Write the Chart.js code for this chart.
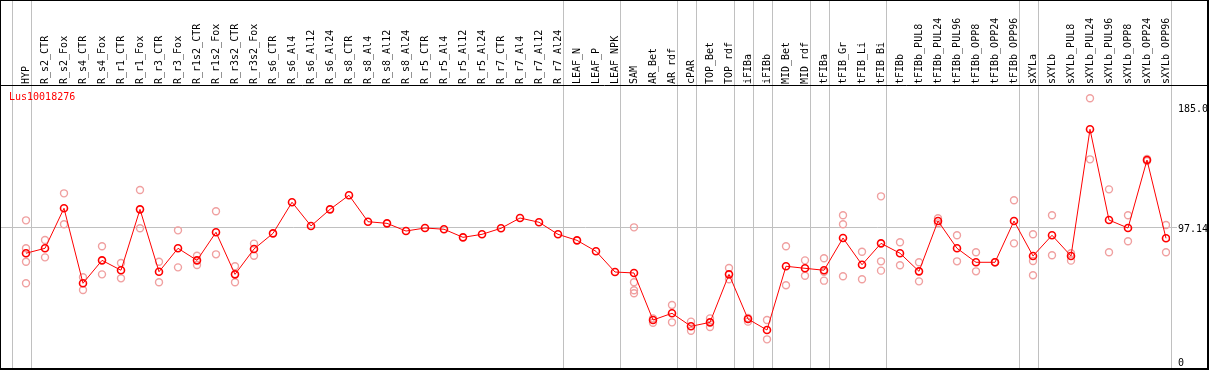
<!DOCTYPE html>
<html>
<head>
<meta charset="utf-8">
<script src="https://cdn.jsdelivr.net/npm/chart.js@4.4.0/dist/chart.umd.min.js"></script>
<style>
  html, body { margin: 0; padding: 0; background: #fff; }
  #wrap { width: 1209px; height: 370px; }
</style>
</head>
<body>
<div id="wrap"><canvas id="chart"></canvas></div>
<script>
const geneName = 'Lus10018276';

const categories = [
    'HYP', 'R_s2_CTR', 'R_s2_Fox', 'R_s4_CTR', 'R_s4_Fox', 'R_r1_CTR', 'R_r1_Fox',
    'R_r3_CTR', 'R_r3_Fox', 'R_r1s2_CTR', 'R_r1s2_Fox', 'R_r3s2_CTR', 'R_r3s2_Fox',
    'R_s6_CTR', 'R_s6_Al4', 'R_s6_Al12', 'R_s6_Al24', 'R_s8_CTR', 'R_s8_Al4',
    'R_s8_Al12', 'R_s8_Al24', 'R_r5_CTR', 'R_r5_Al4', 'R_r5_Al12', 'R_r5_Al24',
    'R_r7_CTR', 'R_r7_Al4', 'R_r7_Al12', 'R_r7_Al24', 'LEAF_N', 'LEAF_P', 'LEAF_NPK',
    'SAM', 'AR_Bet', 'AR_rdf', 'cPAR', 'TOP_Bet', 'TOP_rdf', 'iFIBa', 'iFIBb',
    'MID_Bet', 'MID_rdf', 'tFIBa', 'tFIB_Gr', 'tFIB_Li', 'tFIB_Bi', 'tFIBb',
    'tFIBb_PUL8', 'tFIBb_PUL24', 'tFIBb_PUL96', 'tFIBb_OPP8', 'tFIBb_OPP24', 'tFIBb_OPP96',
    'sXYLa', 'sXYLb', 'sXYLb_PUL8', 'sXYLb_PUL24', 'sXYLb_PUL96', 'sXYLb_OPP8',
    'sXYLb_OPP24', 'sXYLb_OPP96'
];

// mean expression per sample
const meanValues = [
    78.6, 82.2, 111.4, 56.7, 73.4, 66.2, 110.6, 65.1, 82.2, 73.4, 93.9, 63.2, 81.7,
    93.1, 115.8, 98.5, 110.6, 120.9, 101.6, 100.4, 94.8, 97.0, 96.1, 90.2, 92.4,
    96.8, 104.3, 101.2, 92.4, 88.0, 80.0, 64.9,
    64.2, 29.9, 34.8, 25.3, 28.2, 63.2, 30.6, 22.6, 69.1, 67.6, 66.2, 89.7, 70.2, 85.8,
    78.6, 65.4, 102.1, 82.2, 72.0, 72.0, 102.1,
    76.6, 91.7, 76.6, 169.0, 102.8, 97.0, 146.6, 89.5
];

// individual replicates (empty where only one sample)
const replicateValues = [
    [102.6, 82.2, 72.4, 56.7], [88.3, 75.6], [122.3, 99.7], [61.1, 51.8], [83.7, 63.2],
    [71.5, 60.3], [124.7, 96.8], [72.4, 57.4], [95.3, 68.3], [76.8, 70.0], [109.2, 77.8],
    [69.1, 57.4], [85.6, 76.8],
    [], [], [], [], [], [], [], [], [], [], [], [], [], [], [], [], [], [], [],
    [97.5, 57.4, 51.6, 49.4], [31.1, 27.9], [40.8, 28.2], [28.7, 22.1], [31.1, 24.8],
    [67.8, 59.6], [31.4, 28.7], [29.9, 15.8], [83.7, 55.2], [73.4, 62.2],
    [74.9, 65.1, 58.6], [106.3, 99.7, 61.8], [79.7, 59.6], [120.1, 72.7, 65.9],
    [86.6, 69.8], [72.0, 58.1], [104.1, 100.4], [91.7, 72.7], [79.3, 65.4],
    [72.0, 72.0], [117.2, 85.8],
    [92.4, 72.9, 62.5], [106.3, 77.1], [78.6, 73.2], [191.6, 147.1], [125.2, 79.3],
    [106.3, 87.3], [147.3, 145.9], [99.2, 79.3]
];

// last index of each sample group (-1 = leading separator)
const groupEnds = [-1, 0, 28, 31, 34, 35, 37, 38, 39, 41, 42, 45, 52, 53, 60];

const yTicks = [0, 97.14, 185];
const yTickLabels = ['0', '97.14', '185.0'];

const MONO = '"DejaVu Sans Mono", "Liberation Mono", monospace';

const meanPoints = meanValues.map((v, i) => ({ x: i, y: v }));
const repPoints = [];
replicateValues.forEach((reps, i) => reps.forEach(v => repPoints.push({ x: i, y: v })));

const framePlugin = {
    id: 'frame',
    beforeDatasetsDraw(chart) {
        const ctx = chart.ctx;
        const xs = chart.scales.x;
        ctx.save();
        ctx.strokeStyle = '#c0c0c0';
        ctx.lineWidth = 1;
        groupEnds.forEach(g => {
            const px = Math.round(xs.getPixelForValue(g + 0.25)) + 0.5;
            ctx.beginPath();
            ctx.moveTo(px, 0);
            ctx.lineTo(px, chart.height);
            ctx.stroke();
        });
        ctx.restore();
    },
    afterDraw(chart) {
        const ctx = chart.ctx;
        const top = chart.chartArea.top;
        ctx.save();
        ctx.strokeStyle = '#000';
        ctx.lineWidth = 2;
        ctx.strokeRect(0, 0, chart.width - 1, chart.height - 1);
        ctx.lineWidth = 1;
        ctx.beginPath();
        ctx.moveTo(0, top - 0.5);
        ctx.lineTo(chart.width, top - 0.5);
        ctx.stroke();
        ctx.fillStyle = '#ff0000';
        ctx.font = '10px ' + MONO;
        ctx.textBaseline = 'middle';
        ctx.fillText(geneName, 9, top + 11);
        ctx.restore();
    }
};

new Chart(document.getElementById('chart'), {
    type: 'line',
    data: {
        datasets: [
            {
                label: 'mean',
                data: meanPoints,
                borderColor: '#ff0000',
                borderWidth: 1,
                pointRadius: 3.5,
                pointBorderWidth: 1.6,
                pointBorderColor: '#ff0000',
                pointBackgroundColor: 'rgba(0,0,0,0)',
                fill: false,
                tension: 0,
                order: 0
            },
            {
                label: 'replicates',
                data: repPoints,
                showLine: false,
                pointRadius: 3.5,
                pointBorderWidth: 1.4,
                pointBorderColor: '#f0a0a0',
                pointBackgroundColor: 'rgba(0,0,0,0)',
                order: 1
            }
        ]
    },
    options: {
        responsive: true,
        maintainAspectRatio: false,
        animation: false,
        layout: { autoPadding: false, padding: { left: 1, right: 1, top: 0, bottom: 2 } },
        plugins: {
            legend: { display: false },
            tooltip: { enabled: false }
        },
        scales: {
            x: {
                type: 'linear',
                position: 'top',
                min: -25 / 19,
                max: 1144 / 19,
                afterBuildTicks: s => { s.ticks = categories.map((c, i) => ({ value: i })); },
                afterFit: s => { s.height = 86; s.paddingLeft = 0; s.paddingRight = 0; },
                grid: { display: false, drawTicks: false },
                border: { display: false },
                ticks: {
                    autoSkip: false,
                    minRotation: 90,
                    maxRotation: 90,
                    padding: 2,
                    labelOffset: 12,
                    color: '#000',
                    font: { family: MONO, size: 10 },
                    callback: v => categories[v]
                }
            },
            y: {
                type: 'linear',
                position: 'right',
                min: -7 / 1.371,
                max: 275 / 1.371,
                afterBuildTicks: s => { s.ticks = yTicks.map(v => ({ value: v })); },
                afterFit: s => { s.width = 38; s.paddingTop = 0; s.paddingBottom = 0; },
                border: { display: false },
                grid: {
                    drawTicks: true,
                    tickLength: 7,
                    color: c => (c.tick && c.tick.value === yTicks[1]) ? '#c0c0c0' : 'rgba(0,0,0,0)'
                },
                ticks: {
                    padding: 1,
                    labelOffset: 2,
                    color: '#000',
                    font: { family: MONO, size: 10 },
                    callback: (v, i) => yTickLabels[yTicks.indexOf(v)]
                }
            }
        }
    },
    plugins: [framePlugin]
});
</script>
</body>
</html>
